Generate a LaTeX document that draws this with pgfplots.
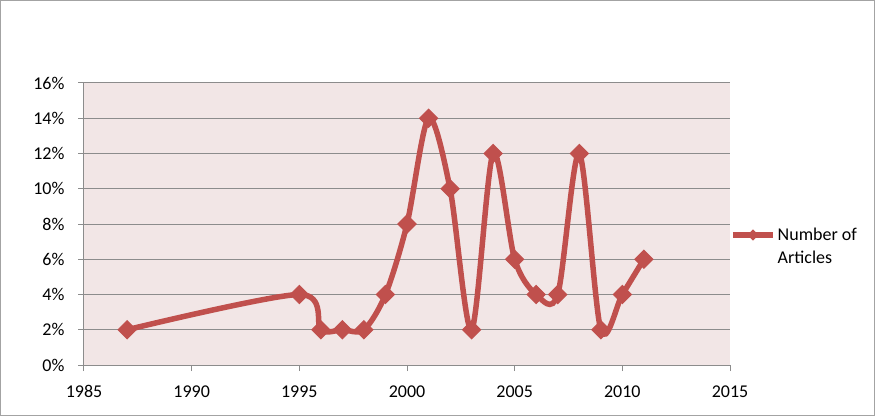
\documentclass[border=0pt]{standalone}
\usepackage{fontspec}
\setmainfont{Carlito}
\usepackage{pgfplots}
\pgfplotsset{compat=1.18}
\definecolor{linered}{HTML}{C0504D}
\definecolor{plotbg}{HTML}{F2E6E6}
\definecolor{gridgray}{HTML}{8C8C8C}
\begin{document}
\begin{tikzpicture}[x=1bp,y=1bp]
\draw[gridgray!80, line width=1bp] (-83.5,-50.5) rectangle (790.5,364.5);
\begin{axis}[
  at={(0,0)}, anchor=south west,
  scale only axis, width=646bp, height=282bp,
  xmin=1985, xmax=2015, ymin=0, ymax=16,
  xtick={1985,1990,...,2015}, ytick={0,2,...,16},
  axis x line*=bottom, axis y line*=left,
  axis line style={gridgray, line width=1bp, -},
  axis background/.style={fill=plotbg},
  ymajorgrids, grid style={gridgray, line width=1bp},
  tick style={gridgray, line width=1bp},
  tick align=outside, major tick length=6bp,
  /pgf/number format/assume math mode=true,
  /pgf/number format/1000 sep={},
  yticklabel={\pgfmathprintnumber{\tick}\%},
  tick label style={font=\fontsize{18bp}{22bp}\selectfont, text=black},
  yticklabel style={xshift=-10bp},
  xticklabel style={yshift=-11bp},
  legend style={draw=none, fill=none, at={(1.0,0.5)}, anchor=west, yshift=-22bp, font=\fontsize{18bp}{23bp}\selectfont, cells={align=left}, inner xsep=0bp},
  legend image code/.code={
    \draw[#1, mark=none] (0bp,11bp) -- (40bp,11bp);
    \draw[#1, only marks, mark size=3.5bp] plot coordinates {(20bp,11bp)};
  },
  clip=false,
]
\addplot[color=linered, line width=5.5bp, smooth, tension=0.5, mark=square*, mark size=6.4bp, mark options={line width=1bp, fill=linered, solid, rotate=45}]
coordinates {
(1987,2) (1995,4) (1996,2) (1997,2) (1998,2) (1999,4) (2000,8) (2001,14) (2002,10) (2003,2) (2004,12) (2005,6) (2006,4) (2007,4) (2008,12) (2009,2) (2010,4) (2011,6)
};
\addlegendentry{Number of\\Articles}
\end{axis}
\end{tikzpicture}
\end{document}
